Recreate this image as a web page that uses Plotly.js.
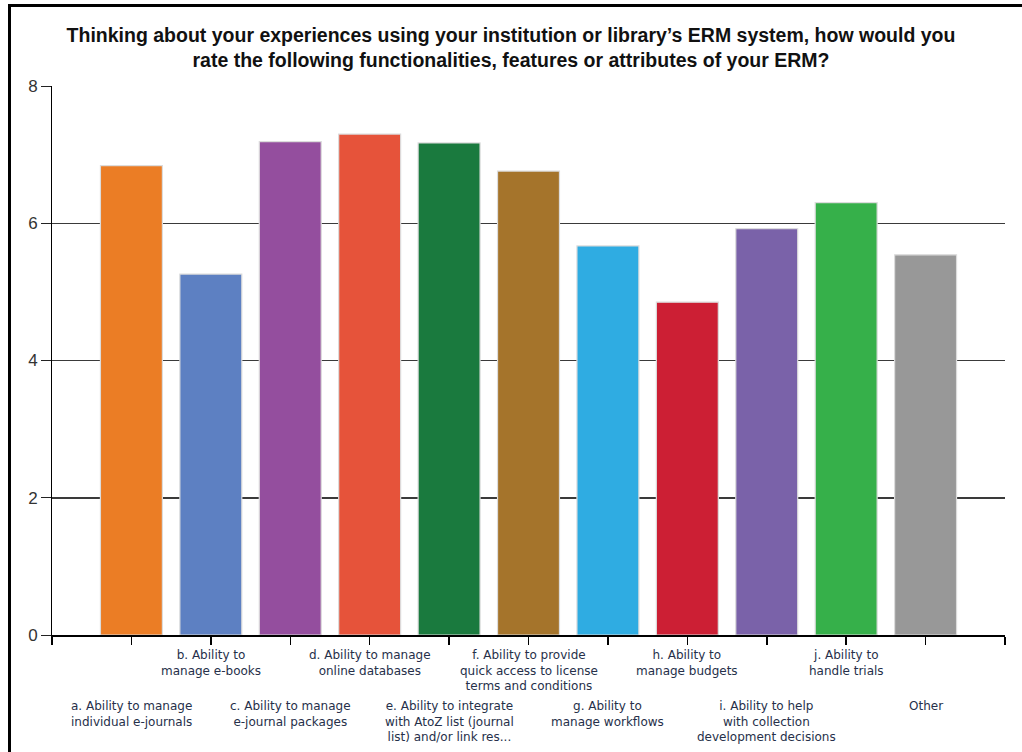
<!DOCTYPE html>
<html>
<head>
<meta charset="utf-8">
<script src="https://cdn.plot.ly/plotly-3.0.1.min.js"></script>
<style>
  html, body { margin: 0; padding: 0; background: #fff; }
  #wrap { position: relative; width: 1022px; height: 752px; overflow: hidden; }
  #chart { width: 1022px; height: 752px; }
  #frame { position: absolute; left: 8px; top: 4px; right: -10px; bottom: -10px;
           border-left: 3px solid #000; border-top: 3px solid #000; pointer-events: none; }
</style>
</head>
<body>
<div id="wrap">
  <div id="chart"></div>
  <div id="frame"></div>
</div>
<script>
const categories = [
  "a. Ability to manage<br>individual e-journals",
  "b. Ability to<br>manage e-books",
  "c. Ability to manage<br>e-journal packages",
  "d. Ability to manage<br>online databases",
  "e. Ability to integrate<br>with AtoZ list (journal<br>list) and/or link res...",
  "f. Ability to provide<br>quick access to license<br>terms and conditions",
  "g. Ability to<br>manage workflows",
  "h. Ability to<br>manage budgets",
  "i. Ability to help<br>with collection<br>development decisions",
  "j. Ability to<br>handle trials",
  "Other"
];
const ratings = [6.84, 5.26, 7.19, 7.30, 7.17, 6.76, 5.67, 4.85, 5.92, 6.30, 5.54];
const barColors = ["#EB7D25", "#5D80C2", "#944E9E", "#E6533A", "#1A7A3E", "#A5742B",
                   "#2FACE2", "#CC1F34", "#7A62A9", "#36B04A", "#989898"];
const yTicks = [0, 2, 4, 6, 8];

const idx = categories.map((_, i) => i);

const trace = {
  type: "bar",
  x: idx,
  y: ratings,
  width: 0.78,
  marker: { color: barColors, line: { color: "#dcdcdc", width: 1.2 } },
  hoverinfo: "skip"
};

const annotations = categories.map((c, i) => ({
  x: i, xref: "x",
  y: 0, yref: "y",
  yanchor: "top", xanchor: "center",
  yshift: (i % 2 === 1) ? -11 : -62,
  text: c,
  showarrow: false,
  align: "center",
  font: { family: "DejaVu Sans, sans-serif", size: 12, color: "#26304a" }
}));

const layout = {
  width: 1022, height: 752,
  paper_bgcolor: "rgba(0,0,0,0)",
  plot_bgcolor: "rgba(0,0,0,0)",
  margin: { l: 52, r: 17, t: 86, b: 117 },
  showlegend: false,
  bargap: 0,
  title: {
    text: "Thinking about your experiences using your institution or library’s ERM system, how would you<br>rate the following functionalities, features or attributes of your ERM?",
    font: { family: "Liberation Sans, Arial, sans-serif", size: 19.5, color: "#111", weight: "bold" },
    x: 0.5, xref: "container", xanchor: "center",
    y: 0.944, yref: "container", yanchor: "top"
  },
  xaxis: {
    range: [-1, 11],
    tickmode: "linear", tick0: -1, dtick: 1,
    ticks: "outside", ticklen: 8, tickcolor: "#000", tickwidth: 1.5,
    showticklabels: false,
    showgrid: false, zeroline: false,
    showline: true, linecolor: "#000", linewidth: 1.5,
    fixedrange: true
  },
  yaxis: {
    range: [0, 8],
    tickvals: yTicks,
    ticks: "outside", ticklen: 10, tickcolor: "#222", tickwidth: 1,
    tickfont: { family: "Liberation Sans, Arial, sans-serif", size: 17, color: "#333" },
    showgrid: true, gridcolor: "#3a3a3a", gridwidth: 1.5,
    zeroline: false,
    showline: true, linecolor: "#000", linewidth: 1,
    fixedrange: true
  },
  annotations: annotations
};

Plotly.newPlot("chart", [trace], layout, { displayModeBar: false, staticPlot: true });
</script>
</body>
</html>
